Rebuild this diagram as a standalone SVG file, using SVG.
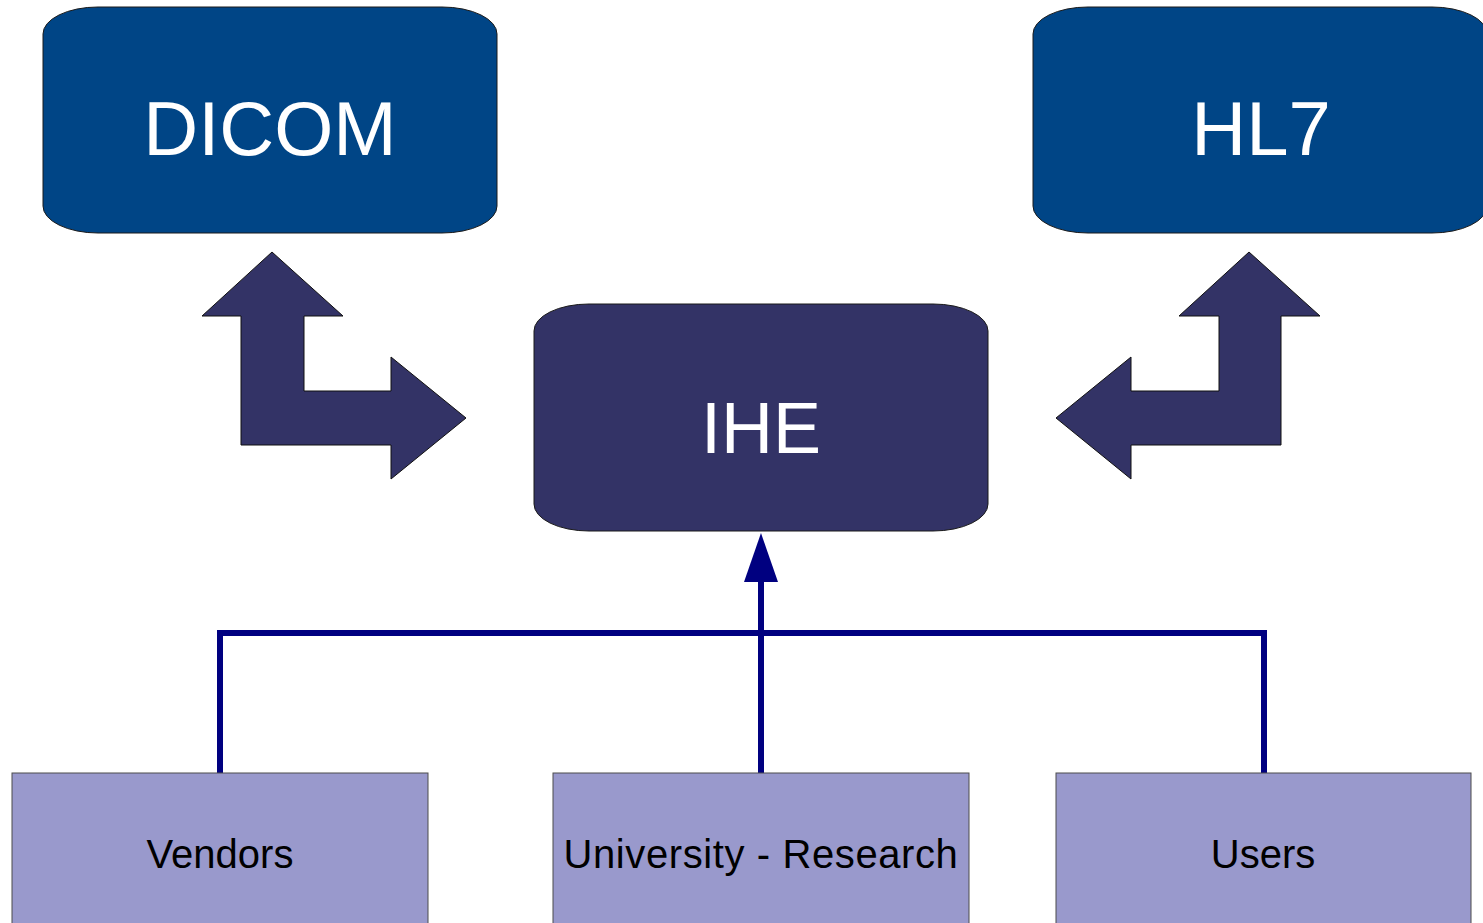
<svg xmlns="http://www.w3.org/2000/svg" width="1483" height="923" viewBox="0 0 1483 923">
<defs>
<style>
.std{fill:#004586;stroke:#1a1a1a;stroke-width:1}
.ihe{fill:#333366;stroke:#1a1a1a;stroke-width:1}
.grp{fill:#9999cc;stroke:#4d4d4d;stroke-width:1}
.bent{fill:#333366;stroke:#111;stroke-width:1}
.big{font-family:"Liberation Sans",Arial,sans-serif;font-size:76px;fill:#ffffff;text-anchor:middle}
.lbl{font-family:"Liberation Sans",Arial,sans-serif;font-size:40px;fill:#000000;text-anchor:middle}
.wire{fill:none;stroke:#000080;stroke-width:6}
</style>
</defs>
<rect width="1483" height="923" fill="#ffffff"/>
<g id="dicom">
<rect class="std" x="43" y="7" width="454" height="226" rx="55" ry="27"/>
<text class="big" x="270" y="155">DICOM</text>
</g>
<g id="hl7">
<rect class="std" x="1033" y="7" width="454" height="226" rx="55" ry="27"/>
<text class="big" x="1261" y="155">HL7</text>
</g>
<g id="ihe">
<rect class="ihe" x="534" y="304" width="454" height="227" rx="55" ry="27"/>
<text class="big" x="761" y="453" style="font-size:72px">IHE</text>
</g>
<g id="arrow-dicom-ihe">
<polygon class="bent" points="272,252 343,316 304,316 304,391 391,391 391,357 466,418 391,479 391,445 241,445 241,316 202,316"/>
</g>
<g id="arrow-hl7-ihe">
<polygon class="bent" points="1249,252 1320,316 1281,316 1281,445 1131,445 1131,479 1056,418 1131,357 1131,391 1219,391 1219,316 1179,316"/>
</g>
<g id="connectors">
<path class="wire" d="M220,773 V633 H1264 V773"/>
<path class="wire" d="M761,773 V580"/>
<polygon points="761,533 778,582 744,582" fill="#000080"/>
</g>
<g id="vendors">
<rect class="grp" x="12" y="773" width="416" height="160"/>
<text class="lbl" x="220" y="868">Vendors</text>
</g>
<g id="university">
<rect class="grp" x="553" y="773" width="416" height="160"/>
<text class="lbl" x="761" y="868" letter-spacing="0.6">University - Research</text>
</g>
<g id="users">
<rect class="grp" x="1056" y="773" width="415" height="160"/>
<text class="lbl" x="1263" y="868">Users</text>
</g>
</svg>
